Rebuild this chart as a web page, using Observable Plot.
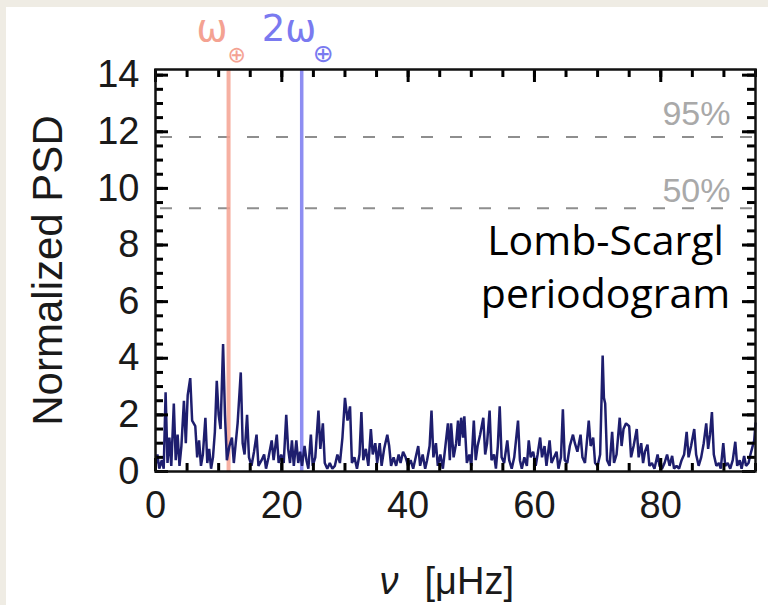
<!DOCTYPE html>
<html><head><meta charset="utf-8">
<script src="https://cdn.jsdelivr.net/npm/d3@7"></script>
<script src="https://cdn.jsdelivr.net/npm/@observablehq/plot@0.6"></script>
<style>
html,body{margin:0;padding:0;background:#efece4;width:768px;height:605px;overflow:hidden;}
#panel{position:absolute;left:6px;top:7px;width:762px;height:598px;background:#fff;}
</style></head><body><div id="panel"></div>
<script>
// frequency (μHz) and normalized PSD
const nu = [0.0,0.3,0.6,1.0,1.3,1.6,1.9,2.2,2.5,2.9,3.2,3.5,3.8,4.1,4.5,4.8,5.1,5.5,5.8,6.3,6.6,6.9,7.2,7.5,7.9,8.2,8.5,8.8,9.1,9.4,9.7,10.0,10.3,10.7,11.0,11.3,11.7,12.1,12.4,13.0,13.5,13.8,14.1,14.5,14.8,15.2,15.6,16.0,16.3,16.8,17.2,17.5,17.9,18.4,18.7,19.2,19.5,19.9,20.3,20.7,21.0,21.3,21.6,21.9,22.3,22.6,22.9,23.2,23.6,23.9,24.2,24.6,24.9,25.3,25.8,26.1,26.5,26.8,27.2,27.6,28.0,28.4,28.8,29.2,29.6,30.0,30.4,30.8,31.1,31.5,31.9,32.3,32.6,32.9,33.3,33.7,34.1,34.4,34.8,35.1,35.5,35.8,36.2,36.7,37.0,37.3,37.7,38.1,38.5,38.8,39.2,39.6,40.0,40.4,40.8,41.2,41.6,41.9,42.3,42.7,43.0,43.4,43.7,44.0,44.4,44.7,45.1,45.5,45.9,46.3,46.6,46.8,47.2,47.6,47.9,48.1,48.4,48.7,48.9,49.3,49.7,50.0,50.4,50.7,51.0,51.4,51.9,52.2,52.5,52.9,53.2,53.6,53.9,54.2,54.5,54.8,55.2,55.7,56.0,56.4,56.8,57.4,57.7,58.0,58.4,58.8,59.1,59.4,59.8,60.2,60.5,60.9,61.2,61.6,61.9,62.4,62.7,63.1,63.5,63.8,64.2,64.5,64.8,65.2,65.6,66.1,66.4,66.8,67.3,67.6,68.0,68.6,68.9,69.3,69.6,70.0,70.4,70.8,71.0,71.2,71.5,71.9,72.3,72.6,73.0,73.5,73.8,74.1,74.5,75.0,75.3,75.7,76.2,76.5,76.9,77.2,77.5,77.9,78.2,78.6,79.0,79.5,79.8,80.2,80.6,81.0,81.4,81.8,82.1,82.5,82.9,83.3,83.7,84.1,84.4,84.8,85.3,85.6,86.0,86.4,86.8,87.2,87.5,87.8,88.1,88.4,88.8,89.2,89.5,89.9,90.2,90.6,91.0,91.4,91.8,92.1,92.5,92.8,93.2,93.5,93.9,94.2,94.5,94.8,95.0];
const psd = [0.2,0.6,0.1,0.4,0.1,2.8,0.3,1.2,0.2,2.4,0.4,1.3,0.2,0.9,2.5,1.0,2.7,3.3,1.8,1.6,0.5,1.1,0.2,0.6,1.9,0.3,0.8,0.1,0.5,1.4,3.2,2.0,1.5,4.5,2.0,0.4,0.9,1.2,0.3,1.7,3.5,1.0,0.6,2.0,0.5,0.2,0.7,1.3,0.2,0.4,0.6,0.1,0.5,1.1,0.4,1.3,0.3,0.6,0.3,2.0,0.8,0.3,1.1,0.2,1.1,0.3,0.7,0.2,0.9,0.4,0.1,1.3,0.2,0.5,2.15,0.8,1.7,0.3,0.1,0.3,0.1,0.2,0.6,0.3,1.2,2.6,1.8,2.3,0.3,0.5,0.1,0.6,2.1,0.4,0.8,0.2,1.5,0.6,1.0,0.3,1.0,0.2,0.8,1.3,0.9,0.2,0.5,0.2,0.6,0.3,0.7,0.5,0.2,0.4,0.1,0.5,0.9,0.2,0.6,0.1,0.4,0.9,2.15,0.5,1.0,0.2,0.6,0.1,0.9,1.7,0.4,1.7,0.5,1.0,1.8,0.9,1.9,1.2,1.95,0.3,0.6,0.2,1.8,0.4,0.9,1.3,1.9,0.6,1.0,2.15,0.4,0.6,0.1,0.9,2.3,0.5,0.3,1.1,0.4,0.1,0.5,1.8,0.4,0.1,0.5,0.2,1.1,0.5,0.7,0.2,0.6,1.2,0.5,0.9,0.2,1.1,0.3,0.5,0.7,0.1,0.5,2.2,0.4,0.3,0.9,1.3,1.0,0.7,1.3,0.5,0.3,1.8,0.9,1.2,0.3,0.2,0.6,4.1,2.6,2.4,0.4,0.2,1.4,0.3,0.6,1.9,0.9,1.5,1.7,1.6,0.5,0.9,1.5,0.5,1.0,0.3,0.7,0.95,0.2,0.3,0.1,0.6,0.2,0.1,0.3,0.6,0.2,0.55,0.1,0.2,0.1,0.4,0.6,1.4,0.5,0.9,1.5,0.6,0.2,0.5,1.0,1.7,0.8,1.3,2.1,0.6,0.2,0.3,0.1,1.0,0.2,0.3,0.1,0.4,1.05,0.2,0.4,0.1,0.55,0.2,0.3,0.6,0.85,1.1,1.7];

const xMajorTicks = [0, 20, 40, 60, 80];
const xMinorTicks = [0,5,10,15,20,25,30,35,40,45,50,55,60,65,70,75,80,85,90,95];
const yMajorTicks = [0, 2, 4, 6, 8, 10, 12, 14];
const yMinorTicks = [0,0.5,1,1.5,2,2.5,3,3.5,4,4.5,5,5.5,6,6.5,7,7.5,8,8.5,9,9.5,10,10.5,11,11.5,12,12.5,13,13.5,14];

const earthFreq = [11.57];      // ω⊕
const earthFreq2 = [23.15];     // 2ω⊕
const levelValues = [11.82, 9.30];
const levelLabels = ["95%", "50%"];

const rows = nu.map((f, i) => ({nu: f, psd: psd[i]}));
const levels = levelValues.map((v, i) => ({value: v, label: levelLabels[i]}));

const RED = "#f4a292", BLUE = "#7a7af0";
const SANS = "Liberation Sans, Arial, Helvetica, sans-serif";

const W = 762, H = 598, ML = 149, MR = 13, MT = 62, MB = 134;
const XDOM = [0, 95], YDOM = [0, 14.2];
const FW = W - ML - MR, FH = H - MT - MB;  // frame size in px
// inward tick lengths (px) converted to data units
const xPerPx = (XDOM[1] - XDOM[0]) / FW, yPerPx = (YDOM[1] - YDOM[0]) / FH;
const MINOR = 8, MAJOR = 13;
const xTick = (ticks, len, atTop) => Plot.ruleX(ticks, {x: d => d,
  y1: () => atTop ? YDOM[1] : YDOM[0],
  y2: () => atTop ? YDOM[1] - len * yPerPx : YDOM[0] + len * yPerPx, stroke: "#000", strokeWidth: 3});
const yTick = (ticks, len, atRight) => Plot.ruleY(ticks, {y: d => d,
  x1: () => atRight ? XDOM[1] : XDOM[0],
  x2: () => atRight ? XDOM[1] - len * xPerPx : XDOM[0] + len * xPerPx, stroke: "#000", strokeWidth: 3});

const chart = Plot.plot({
  width: W, height: H,
  marginLeft: ML, marginRight: MR, marginTop: MT, marginBottom: MB,
  x: {domain: XDOM, axis: null},
  y: {domain: YDOM, axis: null},
  style: {fontFamily: SANS, fontSize: "38px", color: "#1a1a1a", background: "white", overflow: "visible"},
  marks: [
    Plot.ruleY(levels, {y: "value", stroke: "#8e8e8e", strokeWidth: 2, strokeDasharray: "12,17", strokeDashoffset: 24}),
    Plot.ruleX(earthFreq, {x: d => d, stroke: RED, strokeWidth: 4, strokeOpacity: 0.85}),
    Plot.ruleX(earthFreq2, {x: d => d, stroke: BLUE, strokeWidth: 3.5, strokeOpacity: 0.85}),
    Plot.line(rows, {x: "nu", y: "psd", stroke: "#1e1e6e", strokeWidth: 2.5, strokeLinejoin: "miter"}),
    // inward tick marks on all four sides
    xTick(xMinorTicks, MINOR, false), xTick(xMajorTicks, MAJOR, false),
    xTick(xMinorTicks, MINOR, true), xTick(xMajorTicks, MAJOR, true),
    yTick(yMinorTicks, MINOR, false), yTick(yMajorTicks, MAJOR, false),
    yTick(yMinorTicks, MINOR, true), yTick(yMajorTicks, MAJOR, true),
    Plot.frame({stroke: "#111", strokeWidth: 2.5}),
    // tick labels
    Plot.axisX({anchor: "bottom", ticks: xMajorTicks, tickSize: 0, tickPadding: 20, label: null, fontSize: 38}),
    Plot.axisY({anchor: "left", ticks: yMajorTicks, tickSize: 0, tickPadding: 16, label: null, fontSize: 38}),
    // axis titles
    Plot.text(["Normalized PSD"], {frameAnchor: "left", textAnchor: "middle", rotate: -90, dx: -107, fontSize: 42, fill: "#1a1a1a", lineAnchor: "middle"}),
    Plot.text(["ν"], {frameAnchor: "bottom", textAnchor: "end", dx: -57, dy: 110, lineAnchor: "middle", fontSize: 38, fontStyle: "italic", fill: "#1a1a1a"}),
    Plot.text(["[μHz]"], {frameAnchor: "bottom", textAnchor: "start", dx: -31, dy: 110, lineAnchor: "middle", fontSize: 38, fill: "#1a1a1a"}),
    // significance labels
    Plot.text(levels.slice(0, 1), {y: "value", text: "label", frameAnchor: "right", textAnchor: "end", dx: -25, dy: -12, lineAnchor: "bottom", fontSize: 34, fill: "#a9a9a9"}),
    Plot.text(levels.slice(1), {y: "value", text: "label", frameAnchor: "right", textAnchor: "end", dx: -25, dy: -6, lineAnchor: "bottom", fontSize: 34, fill: "#a9a9a9"}),
    // rotation frequency labels
    Plot.text(earthFreq, {x: d => d, text: () => "ω", frameAnchor: "top", textAnchor: "end", dx: -1, dy: -29, lineAnchor: "bottom", fontSize: 37, fontFamily: "DejaVu Sans", fill: RED}),
    Plot.text(earthFreq, {x: d => d, text: () => "⊕", frameAnchor: "top", textAnchor: "start", dx: -1, dy: -8, lineAnchor: "bottom", fontSize: 22, fontFamily: "DejaVu Sans", fill: RED}),
    Plot.text(earthFreq2, {x: d => d, text: () => "2ω", frameAnchor: "top", textAnchor: "start", dx: -40, dy: -29, lineAnchor: "bottom", fontSize: 37, fontFamily: "DejaVu Sans", fill: BLUE}),
    Plot.text(earthFreq2, {x: d => d, text: () => "⊕", frameAnchor: "top", textAnchor: "start", dx: 11, dy: -8, lineAnchor: "bottom", fontSize: 25, fontFamily: "DejaVu Sans", fill: BLUE}),
    // annotation
    Plot.text(["Lomb-Scargl\nperiodogram"], {frameAnchor: "top-right", textAnchor: "middle", dx: -150, dy: 148, lineAnchor: "top", lineHeight: 1.29, fontSize: 41, fontFamily: "Open Sans", fill: "#000"})
  ]
});
document.getElementById("panel").appendChild(chart);
</script>
</body></html>
